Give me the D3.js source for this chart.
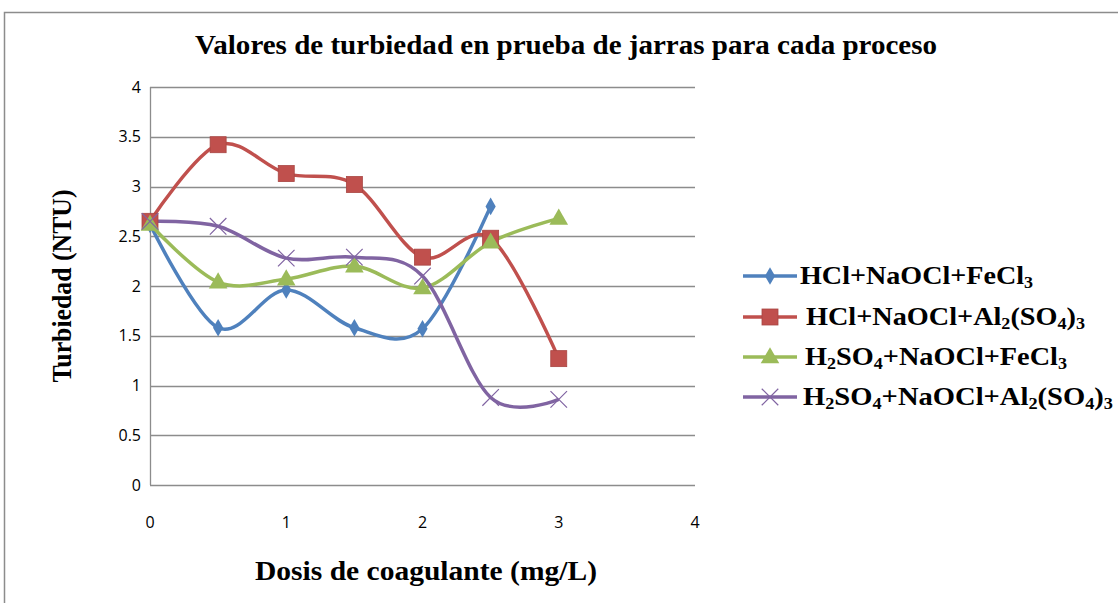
<!DOCTYPE html>
<html>
<head>
<meta charset="utf-8">
<script src="https://cdn.jsdelivr.net/npm/d3@7"></script>
<style>
  body { margin: 0; background: #fff; }
  .tick-label { font-family: "Open Sans", "Liberation Sans", sans-serif; font-size: 16px; fill: #000; }
  .serif { font-family: "Liberation Serif", "DejaVu Serif", serif; font-weight: bold; fill: #000; }
</style>
</head>
<body>
<div id="chart"></div>
<script>
// data
var doses = [0, 0.5, 1, 1.5, 2, 2.5, 3];
var hclFeCl3 = [2.62, 1.58, 1.96, 1.58, 1.57, 2.80];
var hclAl2 = [2.65, 3.42, 3.13, 3.02, 2.29, 2.48, 1.27];
var h2so4FeCl3 = [2.62, 2.04, 2.07, 2.20, 1.98, 2.44, 2.68];
var h2so4Al2 = [2.65, 2.60, 2.28, 2.29, 2.10, 0.88, 0.86];
var yTicks = [0, 0.5, 1, 1.5, 2, 2.5, 3, 3.5, 4];
var xTicks = [0, 1, 2, 3, 4];

// legend labels: [text, isSubscript]
var series = [
  { values: hclFeCl3, color: "#4F81BD", marker: "diamond", width: 233,
    label: [["HCl+NaOCl+FeCl", 0], ["3", 1]] },
  { values: hclAl2, color: "#C0504D", marker: "square", width: 279,
    label: [["HCl+NaOCl+Al", 0], ["2", 1], ["(SO", 0], ["4", 1], [")", 0], ["3", 1]] },
  { values: h2so4FeCl3, color: "#9BBB59", marker: "triangle", width: 262,
    label: [["H", 0], ["2", 1], ["SO", 0], ["4", 1], ["+NaOCl+FeCl", 0], ["3", 1]] },
  { values: h2so4Al2, color: "#8064A2", marker: "x", width: 310,
    label: [["H", 0], ["2", 1], ["SO", 0], ["4", 1], ["+NaOCl+Al", 0], ["2", 1], ["(SO", 0], ["4", 1], [")", 0], ["3", 1]] }
];

var W = 1118, H = 603;
var svg = d3.select("#chart").append("svg")
  .attr("width", W).attr("height", H);

// chart border
svg.append("rect")
  .attr("x", 4.5).attr("y", 12.5)
  .attr("width", W + 10).attr("height", H + 10)
  .attr("fill", "none").attr("stroke", "#8c8c8c").attr("stroke-width", 1.5);

var x = d3.scaleLinear().domain([0, 4]).range([150, 695]);
var y = d3.scaleLinear().domain([0, 4]).range([485, 87]);

// gridlines
svg.append("g").selectAll("line")
  .data(yTicks)
  .enter().append("line")
  .attr("x1", x(0)).attr("x2", x(4))
  .attr("y1", function(d) { return Math.round(y(d)) + 0.5; })
  .attr("y2", function(d) { return Math.round(y(d)) + 0.5; })
  .attr("stroke", "#8c8c8c").attr("stroke-width", 1.3);

// left axis line
svg.append("line")
  .attr("x1", x(0) + 0.5).attr("x2", x(0) + 0.5)
  .attr("y1", y(4)).attr("y2", y(0))
  .attr("stroke", "#8c8c8c").attr("stroke-width", 1.3);

// y tick labels
svg.append("g").selectAll("text")
  .data(yTicks)
  .enter().append("text")
  .attr("class", "tick-label")
  .attr("x", 141)
  .attr("y", function(d) { return y(d); })
  .attr("dy", "0.35em")
  .attr("text-anchor", "end")
  .text(function(d) { return d; });

// x tick labels
svg.append("g").selectAll("text")
  .data(xTicks)
  .enter().append("text")
  .attr("class", "tick-label")
  .attr("x", function(d) { return x(d); })
  .attr("y", 522)
  .attr("dy", "0.35em")
  .attr("text-anchor", "middle")
  .text(function(d) { return d; });

// titles
svg.append("text")
  .attr("class", "serif")
  .attr("x", 566).attr("y", 54)
  .attr("text-anchor", "middle")
  .attr("font-size", 27)
  .attr("textLength", 742)
  .attr("lengthAdjust", "spacingAndGlyphs")
  .text("Valores de turbiedad en prueba de jarras para cada proceso");

svg.append("text")
  .attr("class", "serif")
  .attr("transform", "translate(71,286) rotate(-90)")
  .attr("text-anchor", "middle")
  .attr("font-size", 27)
  .attr("textLength", 193)
  .attr("lengthAdjust", "spacingAndGlyphs")
  .text("Turbiedad (NTU)");

svg.append("text")
  .attr("class", "serif")
  .attr("x", 426).attr("y", 580)
  .attr("text-anchor", "middle")
  .attr("font-size", 28)
  .attr("textLength", 342)
  .attr("lengthAdjust", "spacingAndGlyphs")
  .text("Dosis de coagulante (mg/L)");

// markers
function drawMarker(g, type, color, cx, cy) {
  if (type === "diamond") {
    g.append("path")
      .attr("d", d3.symbol().type(d3.symbolDiamond).size(90))
      .attr("transform", "translate(" + cx + "," + cy + ")")
      .attr("fill", color);
  } else if (type === "square") {
    g.append("rect")
      .attr("x", cx - 8).attr("y", cy - 8)
      .attr("width", 16).attr("height", 16)
      .attr("fill", color).attr("stroke", "#a84542").attr("stroke-width", 0.8);
  } else if (type === "triangle") {
    g.append("path")
      .attr("d", d3.symbol().type(d3.symbolTriangle).size(150))
      .attr("transform", "translate(" + cx + "," + (cy + 1) + ")")
      .attr("fill", color);
  } else {
    g.append("path")
      .attr("d", d3.symbol().type(d3.symbolTimes).size(180))
      .attr("transform", "translate(" + cx + "," + cy + ")")
      .attr("fill", "none").attr("stroke", color).attr("stroke-width", 1.2);
  }
}

var line = d3.line()
  .x(function(d) { return x(d[0]); })
  .y(function(d) { return y(d[1]); })
  .curve(d3.curveCardinal.tension(0));

var plot = svg.append("g");
series.forEach(function(s) {
  var pts = s.values.map(function(v, i) { return [doses[i], v]; });
  plot.append("path")
    .attr("d", line(pts))
    .attr("fill", "none")
    .attr("stroke", s.color)
    .attr("stroke-width", 3.5)
    .attr("stroke-linejoin", "round");
});
series.forEach(function(s) {
  var g = plot.append("g");
  s.values.forEach(function(v, i) {
    drawMarker(g, s.marker, s.color, x(doses[i]), y(v));
  });
});

// legend
var legendY = [276, 317, 357, 397];
var legendX = [800, 806, 805, 803];
var legend = svg.append("g");
series.forEach(function(s, i) {
  var g = legend.append("g");
  var ly = legendY[i];
  g.append("line")
    .attr("x1", 743).attr("x2", 797)
    .attr("y1", ly).attr("y2", ly)
    .attr("stroke", s.color).attr("stroke-width", 3.5);
  drawMarker(g, s.marker, s.color, 770, ly);
  var t = g.append("text")
    .attr("class", "serif")
    .attr("x", legendX[i]).attr("y", ly + 8)
    .attr("font-size", 25)
    .attr("textLength", s.width)
    .attr("lengthAdjust", "spacingAndGlyphs");
  var sub = false;
  s.label.forEach(function(seg) {
    var ts = t.append("tspan").text(seg[0]);
    if (seg[1] && !sub) { ts.attr("dy", 4).attr("font-size", 16); sub = true; }
    else if (seg[1]) { ts.attr("font-size", 16); }
    else if (sub) { ts.attr("dy", -4); sub = false; }
  });
});
</script>
</body>
</html>
